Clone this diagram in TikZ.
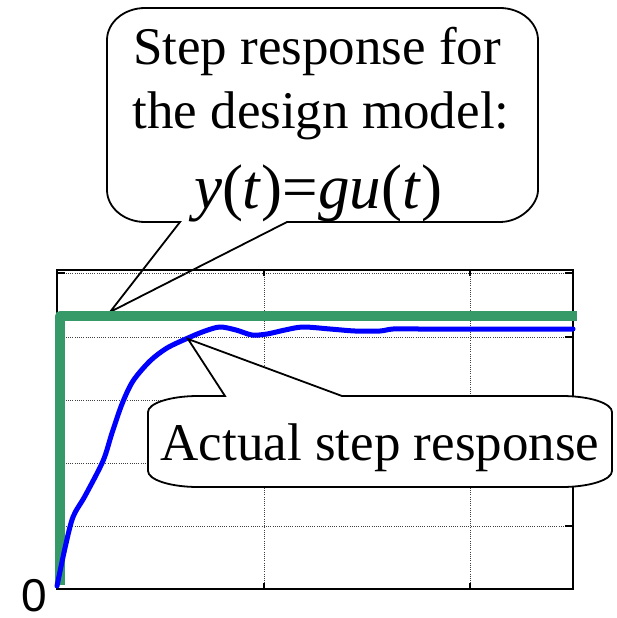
\documentclass[tikz,border=0pt]{standalone}
\usepackage{fontspec}
\setmainfont{Liberation Serif}
\newfontfamily\timesfont{Liberation Serif}
\newfontfamily\arialfont{Liberation Sans}
\definecolor{stepgreen}{RGB}{54,153,104}
\begin{document}
\begin{tikzpicture}[x=1pt,y=-1pt,
  griddot/.style={draw=black!75, line width=0.9pt, dash pattern=on 1pt off 1.2pt},
  frameline/.style={draw=black, line width=1.6pt},
  tickline/.style={draw=black, line width=1.4pt},
  balloon/.style={draw=black, line width=1.8pt, fill=white, line join=miter},
  lbl/.style={inner sep=0pt, font=\timesfont\fontsize{53}{62}\selectfont},
  eqn/.style={inner sep=0pt, font=\timesfont\fontsize{63}{70}\selectfont},
  zerolbl/.style={inner sep=0pt, font=\arialfont\fontsize{46}{56}\selectfont}]
\useasboundingbox (0,0) rectangle (616,618);

% callout 1 (behind the plot)
\coordinate (tipA) at (110,312);
\draw[balloon] (180,222) -- (tipA) -- (287,222) -- (500,222)
  .. controls (520.9,222) and (538,204.4) .. (538,190) -- (538,40)
  .. controls (538,22.4) and (520.9,8) .. (500,8) -- (145,8)
  .. controls (124.1,8) and (107,22.4) .. (107,40) -- (107,190)
  .. controls (107,207.6) and (124.1,222) .. (145,222) -- cycle;
\node[lbl, anchor=base] (l1) at (317,65) {Step response for};
\node[lbl, anchor=base] (l2) at (321,128) {the design model:};
\node[eqn, anchor=base] (l3) at (318,208) {\textit{y}(\textit{t})=\textit{gu}(\textit{t})};

% grid
\foreach \y in {273,337,400,463,526} \draw[griddot] (57,\y) -- (573,\y);
\foreach \x in {264,470} \draw[griddot] (\x,270) -- (\x,589);
% frame
\draw[frameline] (57,270) rectangle (573,589);
\foreach \y in {273,337,400,463,526} {
  \draw[tickline] (57,\y) -- ++(8,0);
  \draw[tickline] (573,\y) -- ++(-8,0);
}
\foreach \x in {264,470} {
  \draw[tickline] (\x,270) -- ++(0,6);
  \draw[tickline] (\x,589) -- ++(0,-6);
}

% design model step
\draw[stepgreen, line width=10pt, line join=round] (60,585) -- (60,316) -- (577,316);

% actual response
\draw[blue, line width=5pt, line join=round, line cap=round]
  plot[smooth, tension=0.5] coordinates {
  (57,586) (65,548) (73,517) (85,496) (103,461) (112,433) (122,404) (133,381)
  (150,361) (167,348) (188,338) (205,331) (220,327) (236,330) (252,335) (267,334)
  (285,330) (303,327) (330,329) (355,331) (380,331) (393,329) (420,329) (500,329) (573,329)};

% callout 2 (on top of the plot)
\coordinate (tipB) at (188,339);
\draw[balloon] (225,396) -- (tipB) -- (342,396) -- (562,396)
  .. controls (589.5,396) and (612,403.2) .. (612,412) -- (612,471)
  .. controls (612,479.8) and (589.5,487) .. (562,487) -- (198,487)
  .. controls (170.5,487) and (148,479.8) .. (148,471) -- (148,412)
  .. controls (148,403.2) and (170.5,396) .. (198,396) -- cycle;
\node[lbl, anchor=base] (act) at (380,460) {Actual step response};

\node[zerolbl, anchor=base] (zero) at (34.5,611) {0};
\end{tikzpicture}
\end{document}
